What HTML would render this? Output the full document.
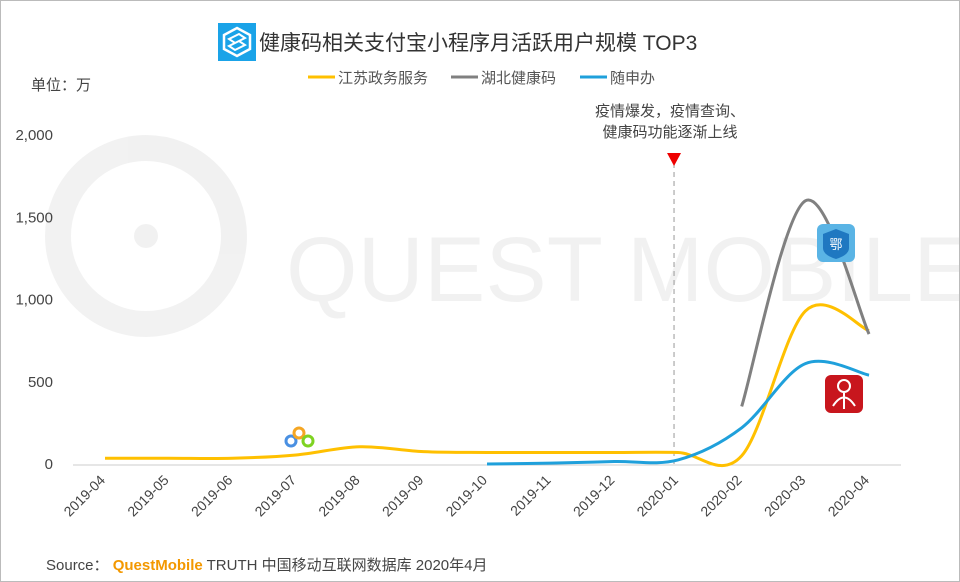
<!DOCTYPE html>
<html><head><meta charset="utf-8">
<style>
body{margin:0;background:#fff;}
#wrap{position:relative;width:958px;height:580px;border:1px solid #bbb;overflow:hidden;font-family:"Liberation Sans","Noto Sans CJK SC",sans-serif;}
svg text{font-family:"Liberation Sans","Noto Sans CJK SC",sans-serif;}
</style></head>
<body>
<div id="wrap">
<svg id="chart" width="958" height="580"></svg>
</div>
<script>
const categories=["2019-04","2019-05","2019-06","2019-07","2019-08","2019-09","2019-10","2019-11","2019-12","2020-01","2020-02","2020-03","2020-04"];
const jiangsu=[35,35,35,55,105,75,70,70,70,70,50,930,810];
const hubei=[null,null,null,null,null,null,null,null,null,null,350,1600,790];
const suishen=[null,null,null,null,null,null,0,5,15,25,220,610,540];
const yTicks=[0,500,1000,1500,2000];
const yTickLabels=["0","500","1,000","1,500","2,000"];
const NS="http://www.w3.org/2000/svg";
const svg=document.getElementById('chart');
function el(t,a,p){const e=document.createElementNS(NS,t);for(const k in a)e.setAttribute(k,a[k]);(p||svg).appendChild(e);return e;}
const x0=104,dx=63.67,yB=463,yS=329/2000;
const X=i=>x0+i*dx, Y=v=>yB-v*yS;

// watermark
const wm=el('g',{opacity:0.05});


el('circle',{cx:145,cy:235,r:88,fill:'none',stroke:'#000','stroke-width':26},wm);
el('circle',{cx:145,cy:235,r:12,fill:'#000'},wm);
const wt=el('text',{x:285,y:300,'font-size':92,fill:'#000'},wm);wt.textContent="QUEST MOBILE";

// title
const ic=el('g',{});


el('rect',{x:217,y:22,width:38,height:38,fill:'#1aa3e8'},ic);
el('path',{d:'M236 27 L249 34 L249 48 L236 55 L223 48 L223 34 Z',fill:'none',stroke:'#fff','stroke-width':2.5},ic);
el('path',{d:'M228 38 L238 33 L244 37 L234 42 Z M228 45 L238 40 L244 44 L234 49 Z',fill:'none',stroke:'#fff','stroke-width':2},ic);
const title=el('text',{x:258,y:49,'font-size':21,fill:'#333'});
title.textContent="健康码相关支付宝小程序月活跃用户规模 TOP3";



// legend
const legend=[["江苏政务服务","#ffc000",307],["湖北健康码","#808080",450],["随申办","#1fa0db",579]];
legend.forEach(l=>{
 const g=el('g',{});
 
 
 el('line',{x1:l[2],y1:76,x2:l[2]+27,y2:76,stroke:l[1],'stroke-width':3},g);
 const t=el('text',{x:l[2]+30,y:82,'font-size':15,fill:'#555'},g);t.textContent=l[0];
});
const unit=el('text',{x:30,y:89,'font-size':15,fill:'#444'});unit.textContent="单位：万";



// axes
const ax=el('line',{x1:72,y1:yB+1,x2:900,y2:yB+1,stroke:'#ccc','stroke-width':1});


yTicks.forEach((v,i)=>{
 const t=el('text',{x:52,y:Y(v)+5,'font-size':15,fill:'#444','text-anchor':'end'});
 t.textContent=yTickLabels[i];
 
 
});
categories.forEach((c,i)=>{
 const t=el('text',{x:X(i)+1,y:480,'font-size':14,fill:'#444','text-anchor':'end',transform:`rotate(-45 ${X(i)+1} 480)`});
 t.textContent=c;
 
 
});

// annotation
const ax9=X(9)-4;
const ann=el('line',{x1:ax9,y1:162,x2:ax9,y2:yB,stroke:'#999','stroke-width':1,'stroke-dasharray':'5,4'});


el('path',{d:`M${ax9-7} 152 L${ax9+7} 152 L${ax9} 165 Z`,fill:'#e00'});
[["疫情爆发，疫情查询、",115],["健康码功能逐渐上线",136]].forEach(a=>{
 const t=el('text',{x:ax9-4,y:a[1],'font-size':15,fill:'#444','text-anchor':'middle'});t.textContent=a[0];
 
 
});

function path(vals){
 const p=[];vals.forEach((v,i)=>{if(v!==null)p.push([X(i),Y(v)]);});
 let d=`M${p[0][0]},${p[0][1]}`;
 for(let i=0;i<p.length-1;i++){
  const a=p[i-1]||p[i],b=p[i],c=p[i+1],e=p[i+2]||c;
  const c1=[b[0]+(c[0]-a[0])/6,b[1]+(c[1]-a[1])/6],c2=[c[0]-(e[0]-b[0])/6,c[1]-(e[1]-b[1])/6];
  d+=` C${c1[0]},${c1[1]} ${c2[0]},${c2[1]} ${c[0]},${c[1]}`;
 }
 return d;
}
[[jiangsu,"#ffc000","line-jiangsu"],[hubei,"#808080","line-hubei"],[suishen,"#1fa0db","line-suishen"]].forEach(s=>{
 const p=el('path',{d:path(s[0]),fill:'none',stroke:s[1],'stroke-width':3});
 
 
});

// app icons
const i1=el('g',{});


el('rect',{x:816,y:223,width:38,height:38,rx:6,fill:'#5ab4e5'},i1);
el('path',{d:'M835 228 L848 233 L848 247 Q848 254 835 258 Q822 254 822 247 L822 233 Z',fill:'#1f78c1'},i1);
const i1t=el('text',{x:835,y:248,'font-size':13,fill:'#fff','text-anchor':'middle'},i1);i1t.textContent="鄂";
const i2=el('g',{});


el('rect',{x:824,y:374,width:38,height:38,rx:6,fill:'#c8161d'},i2);
el('circle',{cx:843,cy:385,r:6,fill:'none',stroke:'#fff','stroke-width':2},i2);
el('path',{d:'M832 405 Q843 388 854 405 M843 392 L843 408',fill:'none',stroke:'#fff','stroke-width':2},i2);
const i3=el('g',{});


el('circle',{cx:290,cy:440,r:5,fill:'none',stroke:'#4a90e2','stroke-width':3},i3);
el('circle',{cx:298,cy:432,r:5,fill:'none',stroke:'#f5a623','stroke-width':3},i3);
el('circle',{cx:307,cy:440,r:5,fill:'none',stroke:'#7ed321','stroke-width':3},i3);

// source
const src=el('text',{x:45,y:569,'font-size':15,fill:'#444'});


src.innerHTML='Source：  <tspan fill="#f39800" font-weight="bold">QuestMobile</tspan> TRUTH 中国移动互联网数据库 2020年4月';
</script>
</body></html>
